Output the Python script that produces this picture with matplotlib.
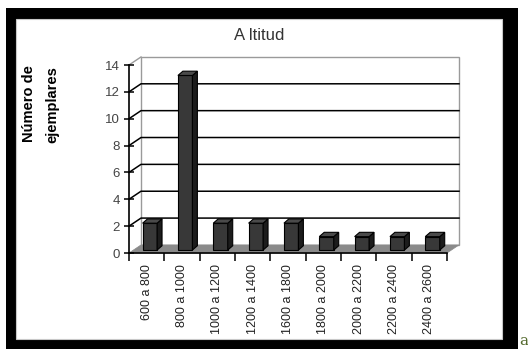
import numpy as np
import matplotlib.pyplot as plt
from matplotlib.patches import Polygon, Rectangle

# data
categories = ["600 a 800", "800 a 1000", "1000 a 1200", "1200 a 1400",
              "1600 a 1800", "1800 a 2000", "2000 a 2200", "2200 a 2400",
              "2400 a 2600"]
counts = [2, 13, 2, 2, 2, 1, 1, 1, 1]
y_ticks = [0, 2, 4, 6, 8, 10, 12, 14]

W, H = 528, 349
fig = plt.figure(figsize=(W / 100, H / 100), dpi=100)
plt.rcParams['font.family'] = ['Liberation Sans', 'DejaVu Sans']

# black frame around the picture
fig.patches.append(Rectangle((6 / W, 0), 512 / W, 1 - 8 / H, transform=fig.transFigure,
                             facecolor='black', edgecolor='none', zorder=-2))
fig.patches.append(Rectangle((16 / W, 10 / H), 486 / W, 320 / H, transform=fig.transFigure,
                             facecolor='white', edgecolor='#c8c8c8', lw=0.8, zorder=-1))
fig.text(519 / W, 1 / H, "a", color='#556b2f', fontsize=11, ha='left', va='bottom',
         family='DejaVu Serif')

# front plane of the 3d chart
ax = fig.add_axes([129 / W, 96 / H, 318 / W, 188 / H])
n = len(categories)
ax.set_xlim(0, n)
ax.set_ylim(0, 14)
ax.patch.set_visible(False)
for s in ['top', 'right']:
    ax.spines[s].set_visible(False)
ax.spines['left'].set_linewidth(1.2)
ax.spines['bottom'].set_linewidth(1.2)

# depth of the floor in data units
dx, dy = 0.34, 0.6
ax.add_patch(Rectangle((dx, dy), n, 14, facecolor='white', edgecolor='#9a9a9a',
                       lw=1.0, clip_on=False, zorder=0))
ax.add_patch(Polygon([(0, 0), (n, 0), (n + dx, dy), (dx, dy)], closed=True,
                     facecolor='#8a8a8a', edgecolor='#8a8a8a', lw=0.5,
                     clip_on=False, zorder=1))
ax.plot([0, dx], [14, 14 + dy], color='#9a9a9a', lw=1.0, clip_on=False, zorder=1)
for v in y_ticks[1:-1]:
    ax.plot([0, dx, n + dx], [v, v + dy, v + dy], color='black', lw=1.1,
            clip_on=False, zorder=1)

# bars with a small depth of their own
x = np.arange(n)
bx, by = 0.09, 0.22
bw = 0.41
bdx, bdy = 0.14, 0.32
left = x + 0.5 - bw / 2 + bx
heights = np.array(counts)
ax.bar(left, heights, width=bw, bottom=by, align='edge', color='#383838',
       edgecolor='black', lw=0.8, zorder=3)
for l, h in zip(left, heights):
    top = by + h
    ax.add_patch(Polygon([(l + bw, by), (l + bw + bdx, by + bdy),
                          (l + bw + bdx, top + bdy), (l + bw, top)], closed=True,
                         facecolor='#1c1c1c', edgecolor='black', lw=0.8, zorder=3))
    ax.add_patch(Polygon([(l, top), (l + bw, top), (l + bw + bdx, top + bdy),
                          (l + bdx, top + bdy)], closed=True,
                         facecolor='#4a4a4a', edgecolor='black', lw=0.8, zorder=3))

# ticks
ax.set_yticks(y_ticks)
ax.tick_params(axis='y', direction='inout', length=7, width=1.1, labelsize=9.5,
               labelcolor='#444444', pad=3)
ax.set_xticks(np.arange(n + 1))
ax.set_xticklabels([])
ax.tick_params(axis='x', which='major', direction='out', length=6, width=1.1)
ax.set_xticks(x + 0.5, minor=True)
ax.set_xticklabels(categories, minor=True, rotation=90, fontsize=9, color='#222222')
ax.tick_params(axis='x', which='minor', length=0, pad=8)

# titles
fig.text(259 / W, 1 - 35 / H, "A ltitud", ha='center', va='center', fontsize=12,
         color='#333333')
fig.text(29 / W, 1 - 104 / H, "Número de", rotation=90, ha='center', va='center',
         fontsize=10.5, fontweight='bold', color='black')
fig.text(52 / W, 1 - 105 / H, "ejemplares", rotation=90, ha='center', va='center',
         fontsize=10.5, fontweight='bold', color='black')

fig.savefig("out.png", dpi=100)
